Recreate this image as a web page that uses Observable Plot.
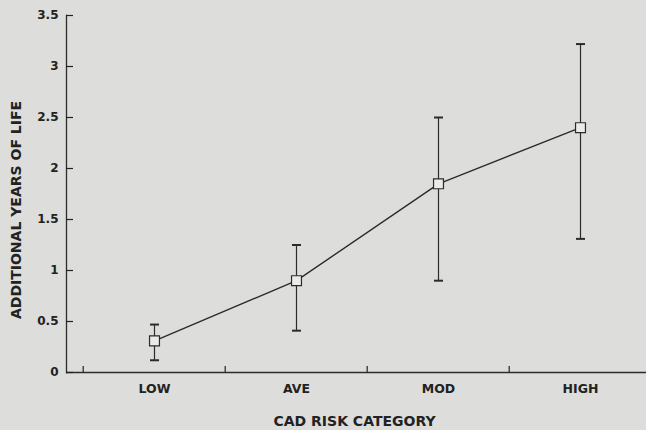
<!DOCTYPE html>
<html>
<head>
<meta charset="utf-8">
<script src="https://cdn.jsdelivr.net/npm/d3@7"></script>
<script src="https://cdn.jsdelivr.net/npm/@observablehq/plot@0.6"></script>
<style>
  html, body { margin: 0; padding: 0; background: #dddddb; }
  #chart svg { display: block; }
</style>
</head>
<body>
<div id="chart"></div>
<script>
const categories = ["LOW", "AVE", "MOD", "HIGH"];
const means = [0.31, 0.90, 1.85, 2.40];
const lower = [0.12, 0.41, 0.90, 1.31];
const upper = [0.47, 1.25, 2.50, 3.22];
const yTicks = [0, 0.5, 1, 1.5, 2, 2.5, 3, 3.5];
const yTickLabels = ["0", "0.5", "1", "1.5", "2", "2.5", "3", "3.5"];
const xTitle = "CAD RISK CATEGORY";
const yTitle = "ADDITIONAL YEARS OF LIFE";

const data = categories.map((c, i) => ({cat: c, mean: means[i], lo: lower[i], hi: upper[i]}));

const W = 646, H = 430;
const xRange = [81.5, 652];
const bw = (xRange[1] - xRange[0]) / categories.length;
const ink = "#2b2b2b";
const textInk = "#222222";
const font = "'DejaVu Sans', Verdana, sans-serif";

const capSymbol = {
  draw(context, size) {
    const r = Math.sqrt(size / Math.PI);
    context.moveTo(-r, 0);
    context.lineTo(r, 0);
  }
};

const chart = Plot.plot({
  width: W,
  height: H,
  marginLeft: 66,
  marginRight: 0,
  marginTop: 15,
  marginBottom: 58,
  style: {background: "transparent", fontFamily: font, color: textInk},
  x: {type: "band", domain: categories, range: xRange, padding: 0},
  y: {domain: [0, 3.5]},
  marks: [
    Plot.frame({anchor: "left", stroke: ink, strokeWidth: 1.3}),
    Plot.ruleY([0], {stroke: ink, strokeWidth: 1.3}),
    Plot.axisY({ticks: yTicks, tickSize: -7, tickPadding: 15, tickFormat: d => yTickLabels[yTicks.indexOf(d)], label: null, fontSize: 12, fontWeight: "bold", strokeWidth: 1.2}),
    Plot.axisX({tickSize: -6, dx: -bw / 2, tickFormat: () => "", label: null, strokeWidth: 1.2}),
    Plot.axisX({tickSize: 0, tickPadding: 12, label: null, fontSize: 12.5, fontWeight: "bold"}),
    Plot.text([xTitle], {text: d => d, frameAnchor: "bottom", lineAnchor: "middle", dx: -2, dy: 49, fontSize: 14, fontWeight: "bold", fill: textInk}),
    Plot.text([yTitle], {text: d => d, frameAnchor: "left", textAnchor: "middle", lineAnchor: "middle", rotate: -90, dx: -49.5, dy: 16, fontSize: 14, fontWeight: "bold", fill: textInk}),
    Plot.ruleX(data, {x: "cat", y1: "lo", y2: "hi", stroke: ink, strokeWidth: 1.2}),
    Plot.dot(data, {x: "cat", y: "lo", symbol: capSymbol, r: 4.5, stroke: ink, strokeWidth: 2}),
    Plot.dot(data, {x: "cat", y: "hi", symbol: capSymbol, r: 4.5, stroke: ink, strokeWidth: 2}),
    Plot.line(data, {x: "cat", y: "mean", stroke: ink, strokeWidth: 1.4}),
    Plot.dot(data, {x: "cat", y: "mean", symbol: "square", r: 5.6, fill: "#ebebe9", stroke: ink, strokeWidth: 1.2})
  ]
});
document.getElementById("chart").appendChild(chart);
</script>
</body>
</html>
